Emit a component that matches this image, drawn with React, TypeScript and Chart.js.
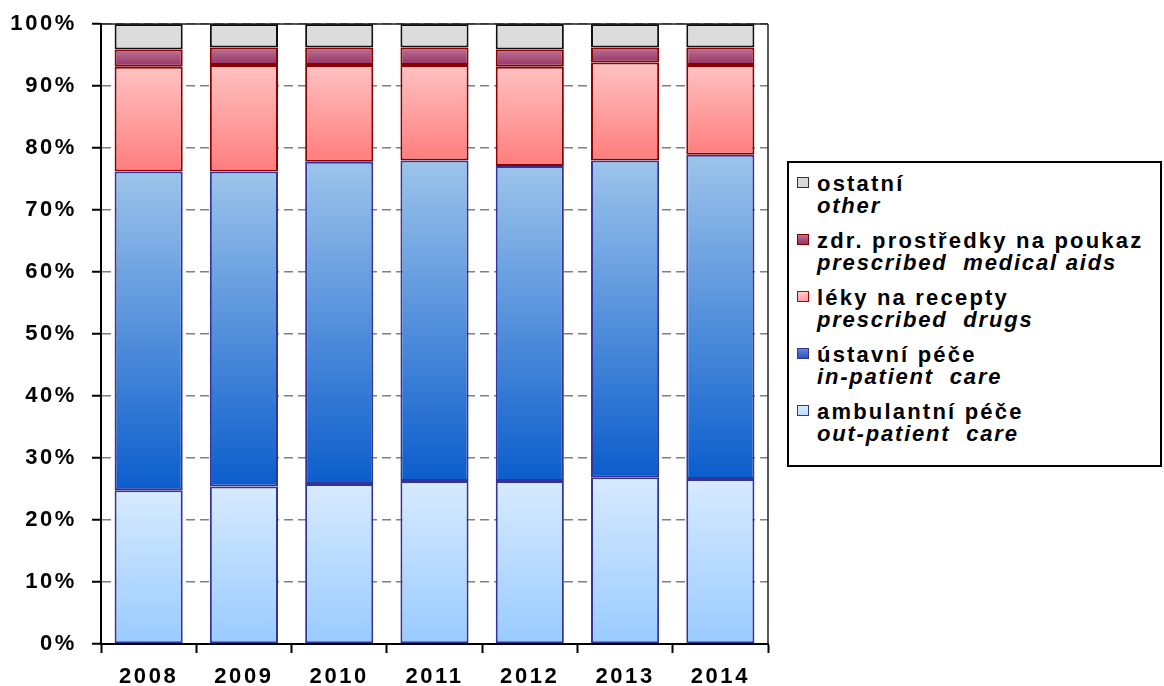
import React, { useEffect, useRef } from "react";
import { Chart, registerables } from "chart.js";

Chart.register(...registerables);

const years = ["2008", "2009", "2010", "2011", "2012", "2013", "2014"];
const outPatient = [24.8, 25.4, 25.8, 26.3, 26.3, 26.9, 26.6];
const inPatient = [51.4, 50.8, 52.0, 51.7, 50.8, 51.1, 52.3];
const prescribedDrugs = [16.9, 17.2, 15.6, 15.4, 16.0, 15.8, 14.5];
const medicalAids = [2.8, 2.8, 2.8, 2.8, 2.8, 2.4, 2.8];
const other = [4.1, 3.8, 3.8, 3.8, 4.1, 3.8, 3.8];

const namesCz = ["ambulantní péče", "ústavní péče", "léky na recepty", "zdr. prostředky na poukaz", "ostatní"];
const namesEn = ["out-patient  care", "in-patient  care", "prescribed  drugs", "prescribed  medical aids", "other"];

const seriesData = [outPatient, inPatient, prescribedDrugs, medicalAids, other];
const gradTop = ["#d7eaff", "#9dc4eb", "#ffc2c2", "#bb7597", "#dcdcdc"];
const gradBottom = ["#99cbff", "#0b5dcc", "#ff7d7d", "#963163", "#dcdcdc"];
const borderCols = ["#333399", "#333399", "#8b0000", "#8b0000", "#111111"];
const swatchFill = [
  "linear-gradient(#d8ebff,#b9dbff)",
  "linear-gradient(#5e86d6,#2a56bc)",
  "linear-gradient(#ffc8c8,#ffa0a0)",
  "linear-gradient(#b8708f,#993366)",
  "#d9d9d9",
];
const swatchBorder = ["#333399", "#333399", "#c00000", "#800000", "#333333"];

const FONT = '"Liberation Sans", Arial, sans-serif';

export default function App() {
  const ref = useRef<HTMLCanvasElement | null>(null);

  useEffect(() => {
    const canvas = ref.current;
    if (!canvas) return;

    const makeBg = (d: number) => (ctx: any) => {
      const chart = ctx.chart;
      if (!chart.chartArea || ctx.type !== "data") return gradBottom[d];
      const i = ctx.dataIndex;
      let base = 0;
      for (let k = 0; k < d; k++) base += seriesData[k][i];
      const top = base + seriesData[d][i];
      const y = chart.scales.y;
      const g = chart.ctx.createLinearGradient(0, y.getPixelForValue(top), 0, y.getPixelForValue(base));
      g.addColorStop(0, gradTop[d]);
      g.addColorStop(1, gradBottom[d]);
      return g;
    };

    const spacingPlugin = {
      id: "spacing",
      beforeDraw(chart: any) {
        chart.ctx.letterSpacing = "2.6px";
      },
      afterDraw(chart: any) {
        chart.ctx.letterSpacing = "0px";
      },
    };

    const framePlugin = {
      id: "frame",
      afterDatasetsDraw(chart: any) {
        const { ctx, chartArea } = chart;
        ctx.save();
        ctx.strokeStyle = "#222";
        ctx.lineWidth = 1.5;
        ctx.beginPath();
        ctx.moveTo(chartArea.left, chartArea.top);
        ctx.lineTo(chartArea.right, chartArea.top);
        ctx.moveTo(chartArea.right, chartArea.top);
        ctx.lineTo(chartArea.right, chartArea.bottom);
        ctx.stroke();
        ctx.restore();
      },
    };

    const chart = new Chart(canvas, {
      type: "bar",
      data: {
        labels: years,
        datasets: seriesData.map((arr, d) => ({
          label: namesCz[d],
          data: arr,
          backgroundColor: makeBg(d),
          borderColor: borderCols[d],
          borderWidth: 2,
          borderSkipped: false,
          barPercentage: 0.715,
          categoryPercentage: 1,
        })),
      },
      options: {
        responsive: false,
        maintainAspectRatio: false,
        animation: false,
        devicePixelRatio: 1,
        layout: { padding: { left: 0, right: 396, top: 24, bottom: 0 } },
        plugins: { legend: { display: false }, tooltip: { enabled: false } },
        scales: {
          x: {
            stacked: true,
            offset: true,
            grid: {
              offset: true,
              drawOnChartArea: false,
              tickLength: 9,
              tickColor: "#000",
              tickWidth: 2,
            },
            border: { color: "#000", width: 2 },
            ticks: {
              color: "#000",
              font: { family: FONT, size: 22, weight: "bold" },
              padding: 11,
              maxRotation: 0,
            },
            afterFit: (s: any) => {
              s.height = 42;
            },
          },
          y: {
            stacked: true,
            min: 0,
            max: 100,
            ticks: {
              stepSize: 10,
              callback: (v: any) => v + "%",
              color: "#000",
              font: { family: FONT, size: 22, weight: "bold" },
              padding: 15,
            },
            grid: {
              color: "#808080",
              lineWidth: 1.5,
              tickColor: "#000",
              tickBorderDash: [],
              tickLength: 9,
              tickWidth: 2,
            },
            border: { color: "#000", width: 2, dash: [9, 5] },
            afterFit: (s: any) => {
              s.width = 101;
              s.paddingTop = 12;
              s.paddingBottom = 12;
            },
          },
        },
      },
      plugins: [spacingPlugin, framePlugin],
    } as any);

    return () => chart.destroy();
  }, []);

  const order = [4, 3, 2, 1, 0];

  return (
    <div style={{ position: "absolute", left: 0, top: 0, width: 1164, height: 686, background: "#fff" }}>
      <canvas ref={ref} width={1164} height={686} style={{ position: "absolute", left: 0, top: 0 }} />
      <div
        style={{
          position: "absolute",
          left: 787,
          top: 161,
          width: 371,
          height: 302,
          border: "2px solid #000",
          background: "#fff",
          fontFamily: FONT,
          fontSize: 22,
          fontWeight: "bold",
          color: "#000",
        }}
      >
        {order.map((d, k) => (
          <div key={d} style={{ position: "absolute", left: 0, top: 10 + k * 57, width: 371 }}>
            <div
              style={{
                position: "absolute",
                left: 8,
                top: 4,
                width: 10,
                height: 9,
                border: `1.5px solid ${swatchBorder[d]}`,
                background: swatchFill[d],
              }}
            />
            <div style={{ position: "absolute", left: 28, top: 0, lineHeight: "21.6px", whiteSpace: "pre" }}>
              <div style={{ letterSpacing: "2.2px" }}>{namesCz[d]}</div>
              <div style={{ letterSpacing: "1.8px", fontStyle: "italic" }}>{namesEn[d]}</div>
            </div>
          </div>
        ))}
      </div>
    </div>
  );
}
